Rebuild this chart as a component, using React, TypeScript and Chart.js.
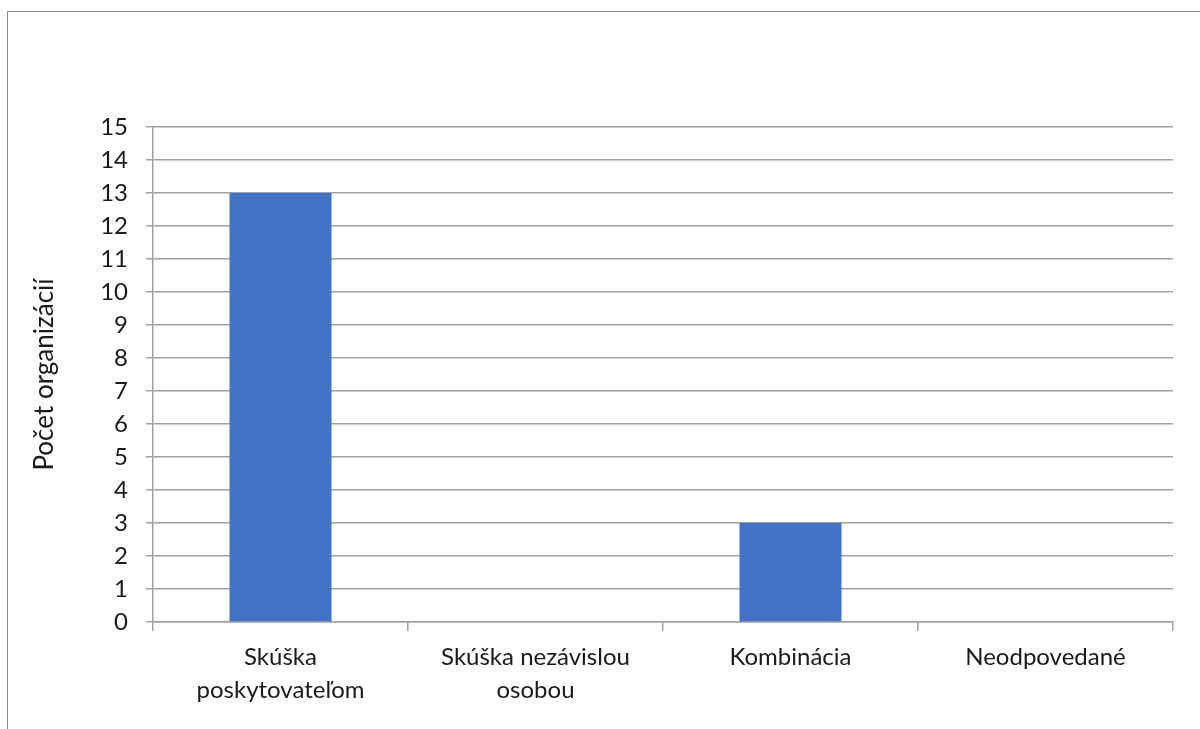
import React, { useEffect, useRef } from "react";
import { Chart, registerables } from "chart.js";

Chart.register(...registerables);

const categories: (string | string[])[] = [
  ["Skúška", "poskytovateľom"],
  ["Skúška nezávislou", "osobou"],
  "Kombinácia",
  "Neodpovedané",
];
const values: number[] = [13, 0, 3, 0];
const yTitle = "Počet organizácií";
const yMin = 0;
const yMax = 15;
const yStep = 1;

const FONT = "Lato, 'Open Sans', sans-serif";

export default function App() {
  const ref = useRef<HTMLCanvasElement | null>(null);
  useEffect(() => {
    if (!ref.current) return;
    const chart = new Chart(ref.current, {
      type: "bar",
      data: {
        labels: categories,
        datasets: [
          {
            data: values,
            backgroundColor: "#4472C4",
            borderWidth: 0,
            categoryPercentage: 1,
            barPercentage: 0.4,
          },
        ],
      },
      options: {
        animation: false,
        responsive: false,
        maintainAspectRatio: false,
        devicePixelRatio: 1,
        layout: { padding: { top: 127, right: 27, bottom: 7, left: 0 } },
        plugins: { legend: { display: false }, tooltip: { enabled: false } },
        scales: {
          x: {
            grid: {
              offset: true,
              drawOnChartArea: false,
              drawTicks: true,
              tickLength: 9,
              color: "#a0a0a0",
              lineWidth: 1.5,
            },
            border: { color: "#a0a0a0", width: 1.5 },
            ticks: {
              color: "#1a1a1a",
              font: { family: FONT, size: 24, lineHeight: 1.38 },
              maxRotation: 0,
              autoSkip: false,
              padding: 10,
            },
            afterFit: (s: any) => {
              s.height = 100;
            },
          },
          y: {
            min: yMin,
            max: yMax,
            ticks: {
              stepSize: yStep,
              color: "#1a1a1a",
              font: { family: FONT, size: 24 },
              padding: 18,
            },
            grid: {
              color: "#a0a0a0",
              lineWidth: 1.5,
              tickLength: 7,
              drawTicks: true,
            },
            border: { color: "#a0a0a0", width: 1.5 },
            title: {
              display: true,
              text: yTitle,
              color: "#1a1a1a",
              font: { family: FONT, size: 26 },
              padding: { top: 29, bottom: 0 },
            },
            afterFit: (s: any) => {
              s.width = 153;
            },
          },
        },
      },
    });
    return () => chart.destroy();
  }, []);

  return (
    <div
      style={{
        position: "fixed",
        left: 0,
        top: 0,
        width: 1200,
        height: 729,
        overflow: "hidden",
        background: "#fff",
      }}
    >
      <div
        style={{
          position: "absolute",
          left: 7,
          top: 11,
          width: 1300,
          height: 800,
          border: "1.5px solid #8c8c8c",
          boxSizing: "border-box",
        }}
      />
      <canvas
        ref={ref}
        width={1200}
        height={729}
        style={{ position: "absolute", left: 0, top: 0, width: 1200, height: 729 }}
      />
    </div>
  );
}
